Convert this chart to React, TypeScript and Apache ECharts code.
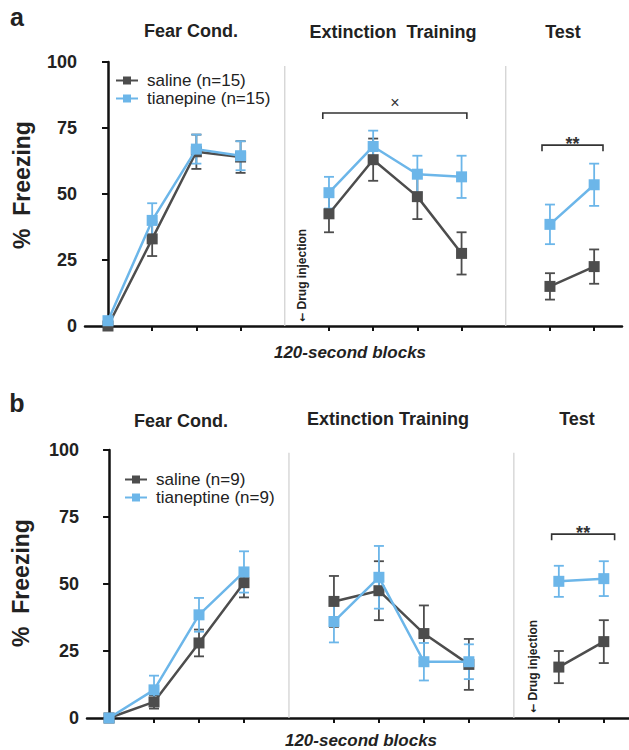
import React, { useEffect, useRef } from "react";
import * as echarts from "echarts";

const FONT = '"Liberation Sans", Arial, Helvetica, sans-serif';
const GRAY = "#4d4d4d";
const BLUE = "#6cb6e9";

// x positions of 120-second blocks (4 and 9 are the gaps between phases)
const blocks = [0, 1, 2, 3, 4, 5, 6, 7, 8, 9, 10, 11];
const tickBlocks = [0, 1, 2, 3, 5, 6, 7, 8, 10, 11];
const phaseDividers = [4, 9];
const phaseTitlesA = ["Fear Cond.", "Extinction  Training", "Test"];
const phaseTitlesB = ["Fear Cond.", "Extinction Training", "Test"];

// Panel a
const namesA = ["saline (n=15)", "tianepine (n=15)"];
const salineA = [0, 33, 66, 64, null, 42.5, 63, 49, 27.5, null, 15, 22.5];
const salineSemA = [1, 6.5, 6.5, 6, null, 7, 8, 8.5, 8, null, 5, 6.5];
const tianA = [2, 40, 67, 64.5, null, 50.5, 68, 57.5, 56.5, null, 38.5, 53.5];
const tianSemA = [1.5, 6.5, 5.5, 5.5, null, 6, 6, 7, 8, null, 7.5, 8];
const bracketsA = [
  [4.86, 8.12, 80.7],
  [9.82, 11.2, 68.5],
];
const bracketLabelsA = ["×", "**"];

// Panel b
const namesB = ["saline (n=9)", "tianeptine (n=9)"];
const salineB = [0, 6, 28, 50.5, null, 43.5, 47.5, 31.5, 20, null, 19, 28.5];
const salineSemB = [1.5, 2.5, 5, 5.5, null, 9.5, 11, 10.5, 9.5, null, 6, 8];
const tianB = [0, 10.5, 38.5, 54.5, null, 36, 52.5, 21, 21, null, 51, 52];
const tianSemB = [1.5, 5.3, 6.3, 7.7, null, 7.8, 11.7, 7, 6.5, null, 5.8, 6.5];
const bracketsB = [[9.84, 11.24, 68.6]];
const bracketLabelsB = ["**"];

function lineSeries(p: number, name: string, vals: (number | null)[], color: string, z: number) {
  return {
    type: "line",
    name,
    xAxisIndex: p,
    yAxisIndex: p,
    z,
    symbol: "rect",
    symbolSize: 11,
    itemStyle: { color },
    lineStyle: { color, width: 2.5 },
    data: blocks.map((x, i) => [x, vals[i] == null ? "-" : vals[i]]),
  };
}

function errorSeries(p: number, vals: (number | null)[], sem: (number | null)[], color: string, z: number) {
  const data = blocks
    .map((x, i) => (vals[i] == null ? null : [x, vals[i], sem[i]]))
    .filter((d) => d !== null);
  return {
    type: "custom",
    xAxisIndex: p,
    yAxisIndex: p,
    z,
    silent: true,
    data,
    renderItem: (params: any, api: any) => {
      const x = api.value(0);
      const m = api.value(1);
      const s = api.value(2);
      const t = api.coord([x, m + s]);
      const b = api.coord([x, m - s]);
      const w = 5;
      const st = { stroke: color, lineWidth: 1.8 };
      return {
        type: "group",
        children: [
          { type: "line", shape: { x1: t[0], y1: t[1], x2: b[0], y2: b[1] }, style: st },
          { type: "line", shape: { x1: t[0] - w, y1: t[1], x2: t[0] + w, y2: t[1] }, style: st },
          { type: "line", shape: { x1: b[0] - w, y1: b[1], x2: b[0] + w, y2: b[1] }, style: st },
        ],
      };
    },
  };
}

function dividerSeries(p: number, top: number) {
  return {
    type: "custom",
    xAxisIndex: p,
    yAxisIndex: p,
    z: 1,
    silent: true,
    data: phaseDividers.map((x) => [x, top]),
    renderItem: (params: any, api: any) => {
      const a = api.coord([api.value(0), 0]);
      const b = api.coord([api.value(0), api.value(1)]);
      return {
        type: "line",
        shape: { x1: a[0], y1: a[1], x2: b[0], y2: b[1] },
        style: { stroke: "#cfcfcf", lineWidth: 1.2 },
      };
    },
  };
}

function bracketSeries(p: number, data: number[][], labels: string[]) {
  return {
    type: "custom",
    xAxisIndex: p,
    yAxisIndex: p,
    z: 5,
    silent: true,
    data,
    renderItem: (params: any, api: any) => {
      const x1 = api.value(0);
      const x2 = api.value(1);
      const y = api.value(2);
      const a = api.coord([x1, y]);
      const b = api.coord([x2, y]);
      const label = labels[params.dataIndex];
      const isStar = label === "**";
      return {
        type: "group",
        children: [
          {
            type: "polyline",
            shape: { points: [[a[0], a[1] + 6], [a[0], a[1]], [b[0], b[1]], [b[0], b[1] + 6]] },
            style: { stroke: "#333", lineWidth: 1.6, fill: null },
          },
          {
            type: "text",
            x: (a[0] + b[0]) / 2,
            y: isStar ? a[1] - 1 : a[1] - 10,
            style: {
              text: label,
              fill: "#333",
              font: isStar ? `bold 18px ${FONT}` : `16px ${FONT}`,
              align: "center",
              verticalAlign: "middle",
            },
          },
        ],
      };
    },
  };
}

function txt(x: number, y: number, text: string, font: string, extra: any = {}) {
  return {
    type: "text",
    x,
    y,
    ...extra,
    style: { text, font, fill: "#222", textAlign: "center", textVerticalAlign: "middle", ...(extra.style || {}) },
  };
}

function drugText(x: number, y: number) {
  return txt(x, y, "{a|←} Drug injection", `bold 12px ${FONT}`, {
    rotation: Math.PI / 2,
    style: {
      textAlign: "left",
      rich: { a: { font: 'bold 11px "DejaVu Sans"', fill: "#222" } },
    },
  });
}

export default function App() {
  const ref = useRef<HTMLDivElement>(null);
  useEffect(() => {
    if (!ref.current) return;
    const chart = echarts.init(ref.current, null, { renderer: "svg" });
    const yAxisCommon = {
      type: "value",
      min: 0,
      max: 100,
      interval: 25,
      axisLine: { show: true, lineStyle: { color: "#111", width: 2.5 } },
      axisTick: { show: true, length: 6, lineStyle: { color: "#111", width: 2 } },
      axisLabel: { fontFamily: FONT, fontWeight: "bold", fontSize: 18, color: "#222", margin: 8 },
      splitLine: { show: false },
    };
    const xAxisCommon = {
      type: "value",
      axisLine: { show: true, onZero: false, lineStyle: { color: "#111", width: 2.5 } },
      axisTick: { show: true, length: 5, customValues: tickBlocks, lineStyle: { color: "#111", width: 2 } },
      axisLabel: { show: false },
      splitLine: { show: false },
    };
    const option: any = {
      animation: false,
      backgroundColor: "#fff",
      grid: [
        { left: 85, top: 62, width: 537, height: 264 },
        { left: 87, top: 450, width: 542, height: 268 },
      ],
      xAxis: [
        { ...xAxisCommon, gridIndex: 0, min: -0.52, max: 11.63 },
        { ...xAxisCommon, gridIndex: 1, min: -0.49, max: 11.56 },
      ],
      yAxis: [
        { ...yAxisCommon, gridIndex: 0 },
        { ...yAxisCommon, gridIndex: 1 },
      ],
      legend: [
        {
          data: namesA,
          orient: "vertical",
          left: 110,
          top: 67,
          itemWidth: 22,
          itemHeight: 10,
          itemGap: 1,
          textStyle: { fontFamily: FONT, fontSize: 17, color: "#222", padding: [0, 0, 0, 4] },
        },
        {
          data: namesB,
          orient: "vertical",
          left: 119,
          top: 466,
          itemWidth: 22,
          itemHeight: 10,
          itemGap: 1,
          textStyle: { fontFamily: FONT, fontSize: 17, color: "#222", padding: [0, 0, 0, 4] },
        },
      ],
      series: [
        dividerSeries(0, 98.5),
        errorSeries(0, salineA, salineSemA, GRAY, 2),
        errorSeries(0, tianA, tianSemA, BLUE, 3),
        lineSeries(0, namesA[0], salineA, GRAY, 3),
        lineSeries(0, namesA[1], tianA, BLUE, 4),
        bracketSeries(0, bracketsA, bracketLabelsA),
        dividerSeries(1, 99),
        errorSeries(1, salineB, salineSemB, GRAY, 2),
        errorSeries(1, tianB, tianSemB, BLUE, 3),
        lineSeries(1, namesB[0], salineB, GRAY, 3),
        lineSeries(1, namesB[1], tianB, BLUE, 4),
        bracketSeries(1, bracketsB, bracketLabelsB),
      ],
      graphic: [
        txt(17, 17, "a", `bold 25px ${FONT}`),
        txt(191, 31, phaseTitlesA[0], `bold 18px ${FONT}`),
        txt(393, 32, phaseTitlesA[1], `bold 18px ${FONT}`),
        txt(563, 32, phaseTitlesA[2], `bold 18px ${FONT}`),
        txt(22, 185, "%  Freezing", `bold 23px ${FONT}`, { rotation: Math.PI / 2 }),
        txt(350, 352, "120-second blocks", `italic bold 17px ${FONT}`),
        drugText(302, 322),
        txt(17, 403, "b", `bold 25px ${FONT}`),
        txt(181, 421, phaseTitlesB[0], `bold 18px ${FONT}`),
        txt(388, 419, phaseTitlesB[1], `bold 18px ${FONT}`),
        txt(577, 419, phaseTitlesB[2], `bold 18px ${FONT}`),
        txt(21, 583, "%  Freezing", `bold 23px ${FONT}`, { rotation: Math.PI / 2 }),
        txt(361, 740, "120-second blocks", `italic bold 17px ${FONT}`),
        drugText(533, 713),
      ],
    };
    chart.setOption(option);
    return () => chart.dispose();
  }, []);
  return (
    <div
      ref={ref}
      style={{ position: "fixed", left: 0, top: 0, width: 629, height: 750, background: "#fff" }}
    />
  );
}
